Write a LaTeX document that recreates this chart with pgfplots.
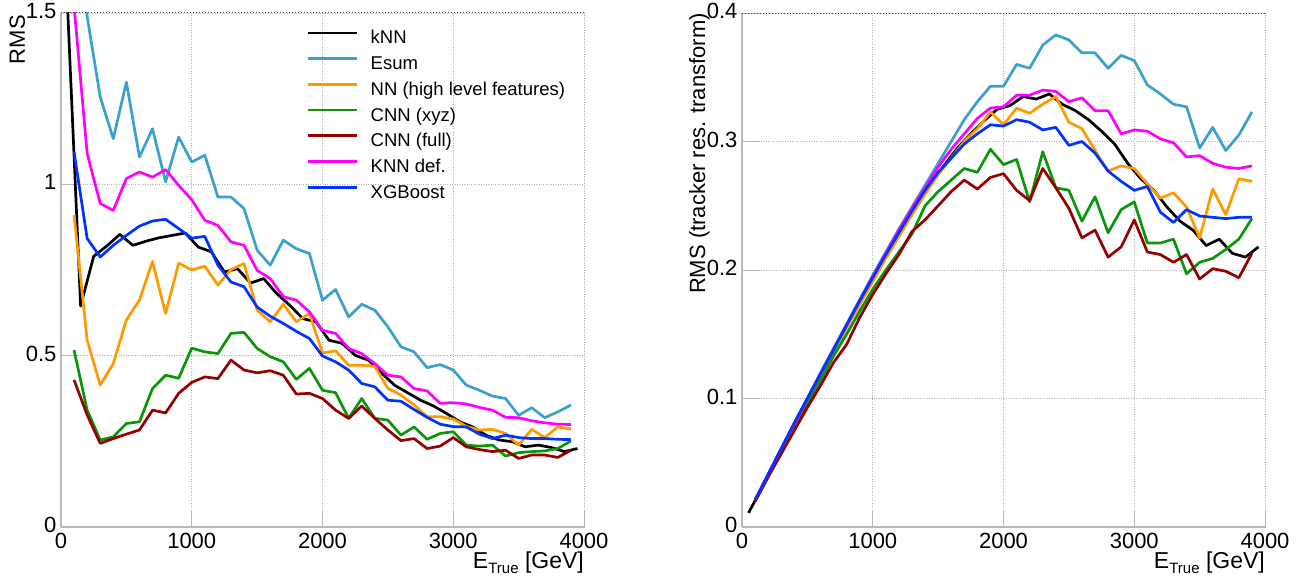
\documentclass[border=0pt]{standalone}
\usepackage{fontspec}
\setmainfont{Liberation Sans}
\usepackage{pgfplots}
\pgfplotsset{compat=1.18}
\definecolor{cEsum}{RGB}{60,160,205}
\definecolor{cNN}{RGB}{255,153,0}
\definecolor{cCNNx}{RGB}{10,150,10}
\definecolor{cCNNf}{RGB}{150,0,0}
\definecolor{cKNNd}{RGB}{255,0,255}
\definecolor{cXGB}{RGB}{0,51,255}
\pgfplotsset{rootstyle/.style={
  scale only axis, width=523pt, height=514pt,
  xmin=0, xmax=4000, ymin=0,
  axis x line*=bottom, axis y line*=left,
  axis line style={gray!55, line width=1.2pt, -},
  xtick={0,1000,2000,3000,4000},
  tick align=inside, major tick length=17pt,
  tick style={gray!55, line width=1pt},
  grid=major, major grid style={dotted, gray!60, line width=0.8pt},
  scaled ticks=false,
  /pgf/number format/1000 sep={},
  /pgf/number format/assume math mode=true,
  tick label style={font=\fontsize{22}{24}\selectfont, text=black},
  xticklabel style={yshift=-3pt},
  yticklabel style={xshift=-1pt, yshift=2pt},
  label style={font=\fontsize{22}{24}\selectfont, inner sep=0pt},
  every axis plot/.append style={line width=2.7pt, line join=round},
  xlabel={E{\raisebox{-0.45ex}{\fontsize{15}{15}\selectfont True}} [GeV]},
  xlabel style={at={([yshift=-41pt]rel axis cs:1,0)}, anchor=base east, font=\fontsize{23}{24}\selectfont},
}}
\begin{document}
\begin{tikzpicture}
\useasboundingbox (0,0) rectangle (1304pt,582pt);
% ---------------- left panel ----------------
\begin{axis}[rootstyle, at={(61pt,55pt)}, anchor=south west,
  ymax=1.5, ytick={0,0.5,1,1.5},
  ylabel={RMS},
  ylabel style={at={([xshift=-36pt,yshift=-2pt]rel axis cs:0,1)}, anchor=base east},
  legend style={at={(rel axis cs:0.4704,0.967)}, anchor=north west, draw=none, fill=none,
    inner sep=0pt, outer sep=0pt, row sep=7.7pt,
    font=\fontsize{18.5}{20}\selectfont,
    nodes={inner sep=0pt, text height=14pt, text depth=4pt},
    /tikz/every odd column/.append style={column sep=12pt}},
  legend cell align=left,
  legend image code/.code={\draw[#1] (0pt,6pt) -- (49pt,6pt);},
]
\addplot[black] coordinates {(50,1.52)(150,0.645)(250,0.79)(350,0.82)(450,0.854)(550,0.822)(650,0.834)(750,0.844)(850,0.851)(950,0.858)(1050,0.817)(1150,0.803)(1250,0.744)(1350,0.754)(1450,0.712)(1550,0.725)(1650,0.681)(1750,0.647)(1850,0.608)(1950,0.599)(2050,0.545)(2150,0.536)(2250,0.501)(2350,0.487)(2450,0.450)(2550,0.414)(2650,0.392)(2750,0.370)(2850,0.353)(2950,0.331)(3050,0.307)(3150,0.292)(3250,0.268)(3350,0.254)(3450,0.249)(3550,0.234)(3650,0.239)(3750,0.232)(3850,0.220)(3950,0.229)};
\addlegendentry{kNN}
\addplot[cEsum] coordinates {(100,2.1)(200,1.49)(300,1.255)(400,1.133)(500,1.298)(600,1.08)(700,1.162)(800,1.007)(900,1.138)(1000,1.065)(1100,1.085)(1200,0.963)(1300,0.963)(1400,0.929)(1500,0.808)(1600,0.764)(1700,0.837)(1800,0.812)(1900,0.798)(2000,0.662)(2100,0.693)(2200,0.613)(2300,0.650)(2400,0.633)(2500,0.584)(2600,0.526)(2700,0.511)(2800,0.465)(2900,0.474)(3000,0.458)(3100,0.414)(3200,0.399)(3300,0.382)(3400,0.375)(3500,0.326)(3600,0.348)(3700,0.319)(3800,0.336)(3900,0.356)};
\addlegendentry{Esum}
\addplot[cNN] coordinates {(100,0.91)(200,0.545)(300,0.414)(400,0.477)(500,0.604)(600,0.662)(700,0.775)(800,0.623)(900,0.770)(1000,0.750)(1100,0.761)(1200,0.706)(1300,0.751)(1400,0.769)(1500,0.633)(1600,0.599)(1700,0.650)(1800,0.599)(1900,0.623)(2000,0.508)(2100,0.514)(2200,0.472)(2300,0.472)(2400,0.469)(2500,0.404)(2600,0.385)(2700,0.356)(2800,0.322)(2900,0.322)(3000,0.315)(3100,0.294)(3200,0.283)(3300,0.285)(3400,0.273)(3500,0.239)(3600,0.285)(3700,0.261)(3800,0.292)(3900,0.286)};
\addlegendentry{NN (high level features)}
\addplot[cCNNx] coordinates {(100,0.516)(200,0.341)(300,0.254)(400,0.263)(500,0.302)(600,0.307)(700,0.404)(800,0.443)(900,0.434)(1000,0.522)(1100,0.511)(1200,0.506)(1300,0.565)(1400,0.568)(1500,0.521)(1600,0.497)(1700,0.482)(1800,0.431)(1900,0.463)(2000,0.399)(2100,0.392)(2200,0.317)(2300,0.375)(2400,0.317)(2500,0.312)(2600,0.268)(2700,0.292)(2800,0.256)(2900,0.273)(3000,0.278)(3100,0.239)(3200,0.236)(3300,0.239)(3400,0.207)(3500,0.217)(3600,0.220)(3700,0.222)(3800,0.229)(3900,0.251)};
\addlegendentry{CNN (xyz)}
\addplot[cCNNf] coordinates {(100,0.429)(200,0.327)(300,0.244)(400,0.258)(500,0.271)(600,0.283)(700,0.341)(800,0.333)(900,0.390)(1000,0.422)(1100,0.438)(1200,0.433)(1300,0.487)(1400,0.458)(1500,0.450)(1600,0.456)(1700,0.443)(1800,0.388)(1900,0.390)(2000,0.375)(2100,0.341)(2200,0.317)(2300,0.353)(2400,0.317)(2500,0.283)(2600,0.252)(2700,0.258)(2800,0.229)(2900,0.236)(3000,0.261)(3100,0.234)(3200,0.226)(3300,0.220)(3400,0.224)(3500,0.200)(3600,0.210)(3700,0.210)(3800,0.203)(3900,0.224)};
\addlegendentry{CNN (full)}
\addplot[cKNNd] coordinates {(100,1.52)(200,1.09)(300,0.944)(400,0.924)(500,1.017)(600,1.036)(700,1.021)(800,1.043)(900,0.997)(1000,0.955)(1100,0.895)(1200,0.880)(1300,0.832)(1400,0.822)(1500,0.749)(1600,0.725)(1700,0.672)(1800,0.662)(1900,0.628)(2000,0.574)(2100,0.565)(2200,0.521)(2300,0.506)(2400,0.477)(2500,0.443)(2600,0.438)(2700,0.404)(2800,0.397)(2900,0.361)(3000,0.363)(3100,0.359)(3200,0.349)(3300,0.341)(3400,0.320)(3500,0.319)(3600,0.310)(3700,0.304)(3800,0.300)(3900,0.299)};
\addlegendentry{KNN def.}
\addplot[cXGB] coordinates {(100,1.094)(200,0.842)(300,0.788)(400,0.822)(500,0.851)(600,0.878)(700,0.893)(800,0.898)(900,0.871)(1000,0.843)(1100,0.848)(1200,0.764)(1300,0.715)(1400,0.701)(1500,0.642)(1600,0.615)(1700,0.594)(1800,0.571)(1900,0.550)(2000,0.499)(2100,0.482)(2200,0.458)(2300,0.419)(2400,0.409)(2500,0.370)(2600,0.367)(2700,0.343)(2800,0.320)(2900,0.300)(3000,0.293)(3100,0.292)(3200,0.271)(3300,0.258)(3400,0.268)(3500,0.261)(3600,0.258)(3700,0.258)(3800,0.256)(3900,0.255)};
\addlegendentry{XGBoost}
\draw[dotted, black!75, line width=1pt] (rel axis cs:0,1) -- (rel axis cs:1,1) -- (rel axis cs:1,0);
\end{axis}
% ---------------- right panel ----------------
\begin{axis}[rootstyle, at={(742pt,55pt)}, anchor=south west,
  ymax=0.4, ytick={0,0.1,0.2,0.3,0.4},
  yticklabel style={/pgf/number format/fixed},
  ylabel={RMS (tracker res. transform)},
  ylabel style={at={([xshift=-37pt,yshift=0pt]rel axis cs:0,1)}, anchor=base east},
]
\addplot[black] coordinates {(50,0.011)(150,0.030)(250,0.050)(350,0.070)(450,0.090)(550,0.109)(650,0.128)(750,0.147)(850,0.166)(950,0.185)(1050,0.203)(1150,0.220)(1250,0.237)(1350,0.253)(1450,0.268)(1550,0.282)(1650,0.295)(1750,0.306)(1850,0.316)(1950,0.325)(2050,0.328)(2150,0.335)(2250,0.333)(2350,0.337)(2450,0.329)(2550,0.324)(2650,0.317)(2750,0.308)(2850,0.298)(2950,0.283)(3050,0.271)(3150,0.262)(3250,0.249)(3350,0.238)(3450,0.231)(3550,0.219)(3650,0.224)(3750,0.213)(3850,0.210)(3950,0.218)};
\addplot[cEsum] coordinates {(100,0.021)(200,0.041)(300,0.061)(400,0.081)(500,0.100)(600,0.120)(700,0.139)(800,0.158)(900,0.177)(1000,0.196)(1100,0.214)(1200,0.232)(1300,0.249)(1400,0.266)(1500,0.283)(1600,0.300)(1700,0.317)(1800,0.331)(1900,0.343)(2000,0.343)(2100,0.360)(2200,0.357)(2300,0.375)(2400,0.383)(2500,0.379)(2600,0.369)(2700,0.369)(2800,0.357)(2900,0.367)(3000,0.363)(3100,0.344)(3200,0.337)(3300,0.329)(3400,0.327)(3500,0.295)(3600,0.311)(3700,0.293)(3800,0.305)(3900,0.323)};
\addplot[cNN] coordinates {(100,0.020)(200,0.040)(300,0.059)(400,0.079)(500,0.098)(600,0.117)(700,0.136)(800,0.155)(900,0.173)(1000,0.191)(1100,0.209)(1200,0.226)(1300,0.243)(1400,0.259)(1500,0.274)(1600,0.287)(1700,0.300)(1800,0.310)(1900,0.323)(2000,0.313)(2100,0.326)(2200,0.322)(2300,0.329)(2400,0.335)(2500,0.315)(2600,0.310)(2700,0.293)(2800,0.277)(2900,0.281)(3000,0.279)(3100,0.267)(3200,0.256)(3300,0.260)(3400,0.249)(3500,0.225)(3600,0.263)(3700,0.243)(3800,0.271)(3900,0.269)};
\addplot[cCNNx] coordinates {(100,0.020)(200,0.039)(300,0.058)(400,0.077)(500,0.096)(600,0.114)(700,0.133)(800,0.150)(900,0.168)(1000,0.185)(1100,0.200)(1200,0.214)(1300,0.228)(1400,0.250)(1500,0.261)(1600,0.270)(1700,0.279)(1800,0.276)(1900,0.294)(2000,0.282)(2100,0.286)(2200,0.253)(2300,0.292)(2400,0.264)(2500,0.262)(2600,0.238)(2700,0.257)(2800,0.229)(2900,0.247)(3000,0.253)(3100,0.221)(3200,0.221)(3300,0.224)(3400,0.197)(3500,0.206)(3600,0.209)(3700,0.216)(3800,0.224)(3900,0.240)};
\addplot[cCNNf] coordinates {(100,0.020)(200,0.039)(300,0.057)(400,0.075)(500,0.093)(600,0.110)(700,0.128)(800,0.142)(900,0.163)(1000,0.181)(1100,0.197)(1200,0.212)(1300,0.230)(1400,0.239)(1500,0.250)(1600,0.261)(1700,0.270)(1800,0.263)(1900,0.272)(2000,0.275)(2100,0.262)(2200,0.254)(2300,0.279)(2400,0.264)(2500,0.248)(2600,0.225)(2700,0.231)(2800,0.210)(2900,0.218)(3000,0.239)(3100,0.214)(3200,0.212)(3300,0.206)(3400,0.212)(3500,0.193)(3600,0.201)(3700,0.199)(3800,0.194)(3900,0.213)};
\addplot[cKNNd] coordinates {(100,0.021)(200,0.041)(300,0.061)(400,0.080)(500,0.100)(600,0.119)(700,0.138)(800,0.157)(900,0.176)(1000,0.195)(1100,0.213)(1200,0.231)(1300,0.248)(1400,0.264)(1500,0.280)(1600,0.294)(1700,0.306)(1800,0.318)(1900,0.326)(2000,0.327)(2100,0.336)(2200,0.336)(2300,0.340)(2400,0.339)(2500,0.331)(2600,0.334)(2700,0.324)(2800,0.324)(2900,0.306)(3000,0.309)(3100,0.308)(3200,0.302)(3300,0.299)(3400,0.288)(3500,0.289)(3600,0.283)(3700,0.280)(3800,0.279)(3900,0.281)};
\addplot[cXGB] coordinates {(100,0.021)(200,0.041)(300,0.061)(400,0.081)(500,0.100)(600,0.119)(700,0.138)(800,0.157)(900,0.176)(1000,0.194)(1100,0.212)(1200,0.229)(1300,0.246)(1400,0.262)(1500,0.276)(1600,0.287)(1700,0.298)(1800,0.306)(1900,0.313)(2000,0.312)(2100,0.317)(2200,0.315)(2300,0.309)(2400,0.311)(2500,0.297)(2600,0.300)(2700,0.291)(2800,0.277)(2900,0.269)(3000,0.262)(3100,0.265)(3200,0.245)(3300,0.237)(3400,0.247)(3500,0.242)(3600,0.241)(3700,0.240)(3800,0.241)(3900,0.241)};
\draw[dotted, black!75, line width=1pt] (rel axis cs:0,1) -- (rel axis cs:1,1) -- (rel axis cs:1,0);
\end{axis}
\end{tikzpicture}
\end{document}
